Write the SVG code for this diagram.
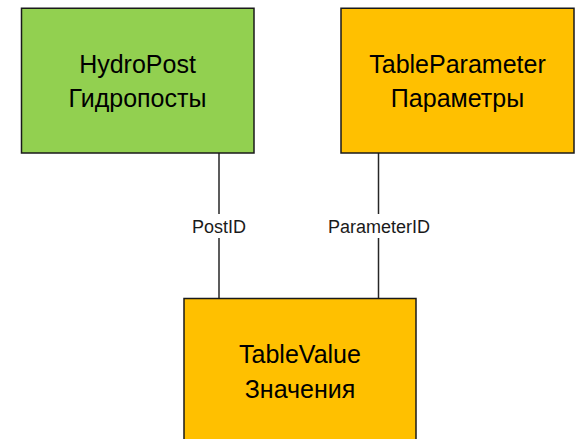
<svg xmlns="http://www.w3.org/2000/svg" width="577" height="439" viewBox="0 0 577 439">
<style>
.box{stroke:#1a1a1a;stroke-width:1.5}
.green{fill:#92D050}
.orange{fill:#FFC000}
.t{font-family:"Liberation Sans",Arial,sans-serif;font-size:25px;fill:#000;text-anchor:middle}
.lbl{font-family:"Liberation Sans",Arial,sans-serif;font-size:18px;fill:#1a1a1a;text-anchor:middle}
.ln{stroke:#262626;stroke-width:1.5;fill:none}
</style>
<rect width="577" height="439" fill="#fff"/>
<g id="connectors">
<line class="ln" x1="219" y1="153" x2="219" y2="298.5"/>
<line class="ln" x1="378.5" y1="153" x2="378.5" y2="298.5"/>
<rect x="190" y="214" width="58" height="24" fill="#fff"/>
<rect x="322" y="214" width="114" height="24" fill="#fff"/>
<text class="lbl" x="219" y="232.5">PostID</text>
<text class="lbl" x="379" y="232.5">ParameterID</text>
</g>
<g id="hydropost">
<rect class="box green" x="21.5" y="8.25" width="232.5" height="144.75"/>
<text class="t" x="137.5" y="72.7">HydroPost</text>
<text class="t" x="137.5" y="107.3">Гидропосты</text>
</g>
<g id="tableparameter">
<rect class="box orange" x="341" y="8.25" width="233" height="144.75"/>
<text class="t" x="457.5" y="72.7">TableParameter</text>
<text class="t" x="457.5" y="107.3">Параметры</text>
</g>
<g id="tablevalue">
<rect class="box orange" x="184" y="298.5" width="232" height="145"/>
<text class="t" x="300" y="363.3">TableValue</text>
<text class="t" x="300" y="398.3">Значения</text>
</g>
</svg>
